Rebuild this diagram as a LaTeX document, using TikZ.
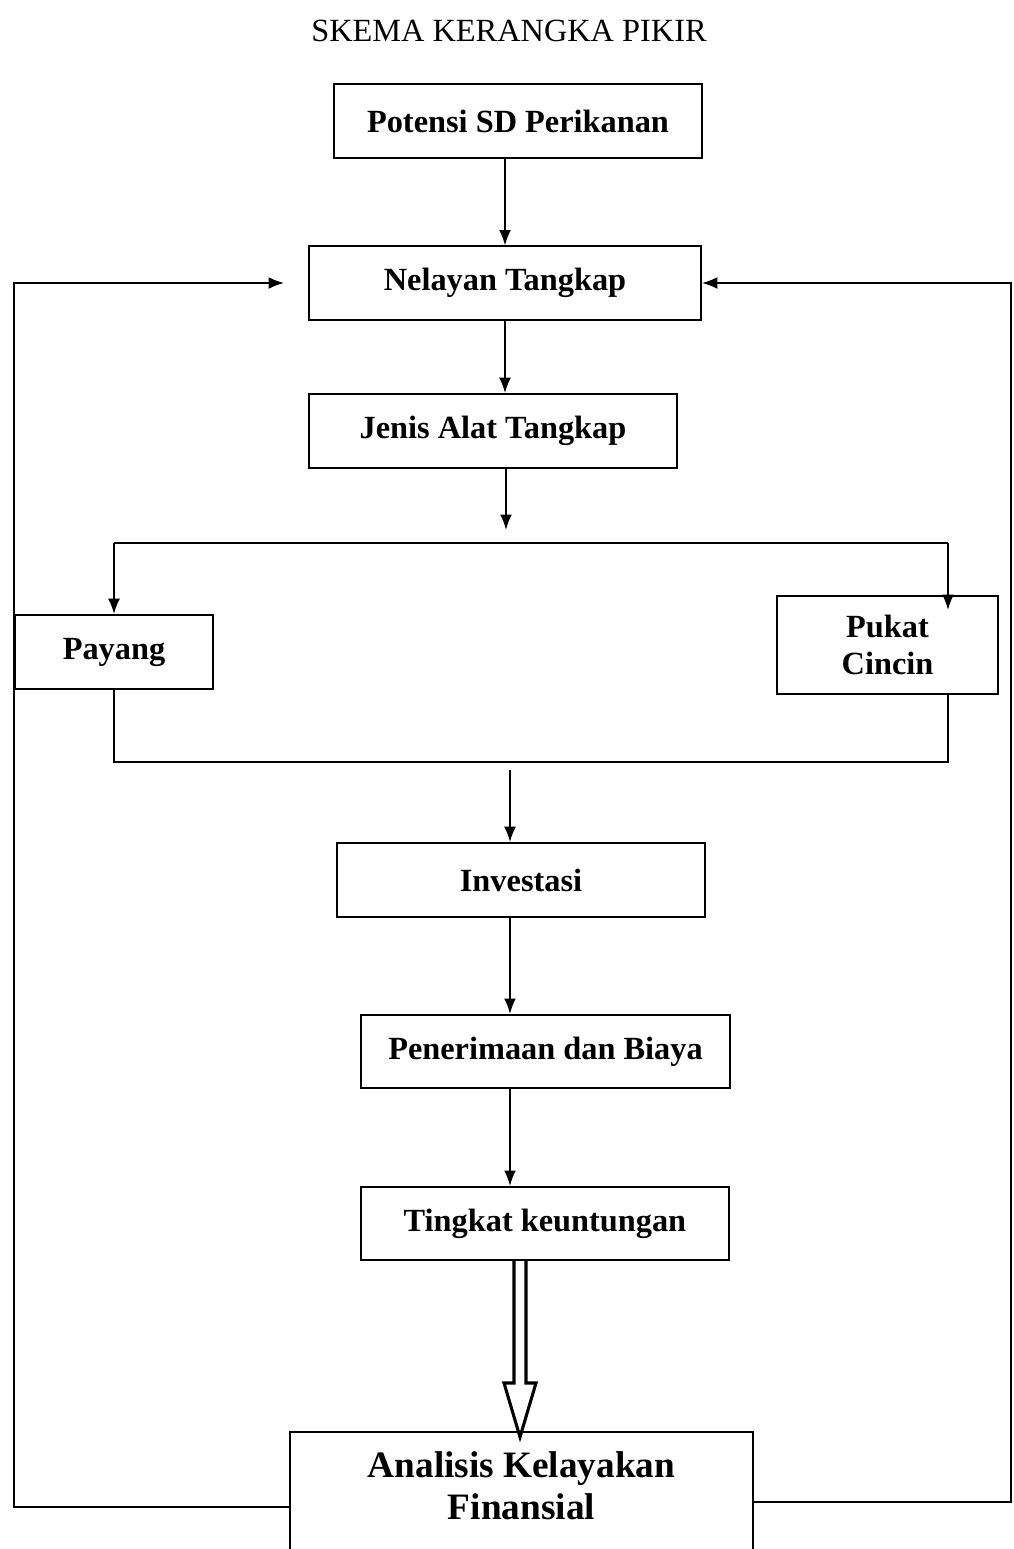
\documentclass[tikz,border=0pt]{standalone}
\usepackage{fontspec}
\setmainfont{Liberation Serif}
\usetikzlibrary{arrows.meta,calc}

\begin{document}
\begin{tikzpicture}[
    x=0.025cm, y=-0.025cm,
    box/.style={draw, line width=1.3pt, inner sep=0pt,
                minimum width=9.2cm, minimum height=1.83cm,
                font=\fontsize{23}{26}\selectfont\bfseries, align=center},
    line/.style={line width=1.3pt},
    arrow/.style={line, -{Latex[length=11pt,width=8.5pt]}},
    hollow/.style={line width=2.2pt, line join=miter}
]
\useasboundingbox (0,0) rectangle (1013,1549);
\node[font=\fontsize{23}{26}\selectfont] (judul) at (509,31) {SKEMA KERANGKA PIKIR};
\node[box] (potensi) at (518,121) {Potensi SD Perikanan};
\node[box, minimum width=9.8cm] (nelayan) at (505,283) {Nelayan Tangkap};
\node[box, minimum height=1.85cm] (jenis) at (493,431) {Jenis Alat Tangkap};
\node[box, minimum width=4.95cm, minimum height=1.85cm] (payang) at (114,652) {Payang};
\node[box, minimum width=5.525cm, minimum height=2.45cm] (pukat) at (887.5,645) {Pukat\\Cincin};
\node[box, minimum height=1.85cm] (investasi) at (521,880) {Investasi};
\node[box, minimum width=9.225cm] (penerimaan) at (545.5,1051.5) {Penerimaan dan Biaya};
\node[box] (tingkat) at (545,1223.5) {Tingkat keuntungan};
\node[box, anchor=north, minimum width=11.575cm, inner ysep=0.5cm, text depth=2.2cm,
      font=\fontsize{26.5}{30}\selectfont\bfseries] (analisis) at (521.5,1431)
      {Analisis Kelayakan\\Finansial};

% titik bantu
\coordinate (jtip) at (506,530);
\coordinate (tl) at (114,543);
\coordinate (tr) at (948,543);
\coordinate (ptip) at (948,610);
\coordinate (bl) at (114,762);
\coordinate (br) at (948,762);
\coordinate (mtop) at (510,770);
\coordinate (ha) at (520,1260);
\coordinate (lout) at ($(analisis.north west)+(0,76)$);
\coordinate (rout) at ($(analisis.north east)+(0,71)$);
\coordinate (redge) at (1011,1502);

\draw[arrow] (potensi.south -| nelayan.north) -- (nelayan.north);
\draw[arrow] (nelayan.south) -- (nelayan.south |- jenis.north);
\draw[arrow] (jenis.south -| jtip) -- (jtip);
\draw[line] (tl) -- (tr);
\draw[arrow] (tl) -- (payang.north);
\draw[arrow] (tr) -- (ptip);
\draw[line] (payang.south) -- (bl) -- (br) -- (br |- pukat.south);
\draw[arrow] (mtop) -- (mtop |- investasi.north);
\draw[arrow] (investasi.south -| mtop) -- (mtop |- penerimaan.north);
\draw[arrow] (penerimaan.south -| mtop) -- (mtop |- tingkat.north);
\draw[hollow] (ha) ++(-6,0) -- ++(0,123) -- ++(-10,0) -- ++(16,54)
    -- ++(16,-54) -- ++(-10,0) -- ++(0,-123);
\draw[arrow, shorten >=0.6cm] (lout) -| (payang.west) |- (nelayan.west);
\draw[arrow] (rout) -- (redge) |- (nelayan.east);
\end{tikzpicture}
\end{document}
